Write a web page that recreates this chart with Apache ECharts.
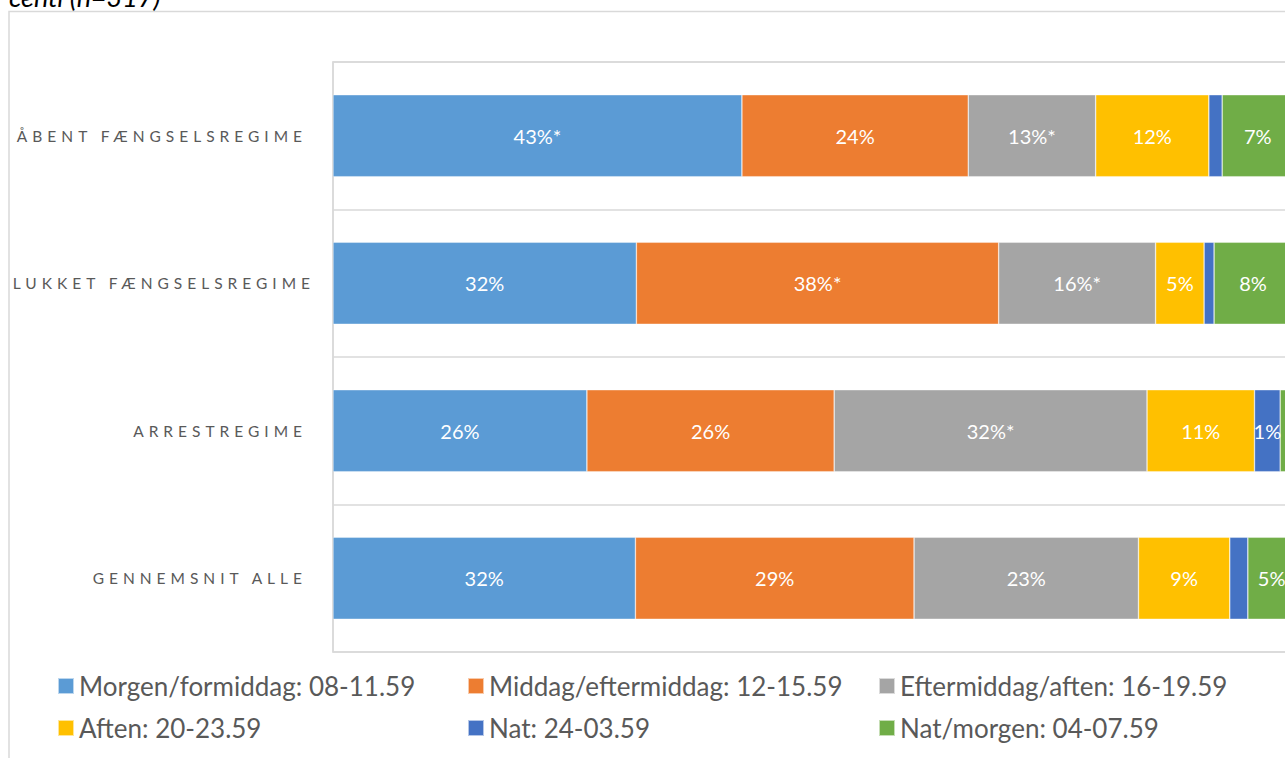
<!DOCTYPE html>
<html>
<head>
<meta charset="utf-8">
<script src="https://cdn.jsdelivr.net/npm/echarts@6/dist/echarts.min.js"></script>
<style>
html,body{margin:0;padding:0;background:#fff;}
#main{width:1285px;height:758px;}
</style>
</head>
<body>
<div id="main"></div>
<script>
// ---- data ----
var categories = ['ÅBENT FÆNGSELSREGIME', 'LUKKET FÆNGSELSREGIME', 'ARRESTREGIME', 'GENNEMSNIT ALLE'];
var seriesNames = ['Morgen/formiddag: 08-11.59', 'Middag/eftermiddag: 12-15.59', 'Eftermiddag/aften: 16-19.59',
                   'Aften: 20-23.59', 'Nat: 24-03.59', 'Nat/morgen: 04-07.59'];
var morgen      = [43.0, 31.9, 26.7, 31.8];
var middag      = [23.8, 38.1, 26.0, 29.3];
var eftermiddag = [13.4, 16.5, 32.9, 23.6];
var aften       = [11.9, 5.1, 11.3, 9.6];
var nat         = [1.4, 1.05, 2.7, 1.9];
var natMorgen   = [7.5, 8.2, 1.0, 5.0];
var morgenLabels      = ['43%*', '32%', '26%', '32%'];
var middagLabels      = ['24%', '38%*', '26%', '29%'];
var eftermiddagLabels = ['13%*', '16%*', '32%*', '23%'];
var aftenLabels       = ['12%', '5%', '11%', '9%'];
var natLabels         = ['', '', '1%', ''];
var natMorgenLabels   = ['7%', '8%', '', '5%'];
var titleText = 'centi (n=317)';

var colors = ['#5B9BD5', '#ED7D31', '#A5A5A5', '#FFC000', '#4472C4', '#70AD47'];
var FONT = 'Lato';
var allValues = [morgen, middag, eftermiddag, aften, nat, natMorgen];
var allLabels = [morgenLabels, middagLabels, eftermiddagLabels, aftenLabels, natLabels, natMorgenLabels];

var series = seriesNames.map(function (name, i) {
  return {
    name: name,
    type: 'bar',
    stack: 'total',
    barWidth: 82,
    itemStyle: { color: colors[i], borderColor: 'rgba(255,255,255,0.6)', borderWidth: 0.6 },
    label: {
      show: true,
      position: 'inside',
      color: '#ffffff',
      fontFamily: FONT,
      fontSize: 20,
      formatter: function (p) { return allLabels[i][p.dataIndex]; }
    },
    emphasis: { disabled: true },
    data: allValues[i]
  };
});

function legendCol(left, names) {
  return {
    orient: 'vertical',
    left: left,
    top: 668,
    itemWidth: 16,
    itemHeight: 16,
    itemGap: 16,
    icon: 'rect',
    selectedMode: false,
    textStyle: { color: '#595959', fontFamily: FONT, fontSize: 26, lineHeight: 26 },
    data: names
  };
}

var chart = echarts.init(document.getElementById('main'), null, { renderer: 'svg' });
chart.setOption({
  animation: false,
  color: colors,
  graphic: [
    { type: 'rect', shape: { x: 9, y: 11.5, width: 1400, height: 900 },
      style: { fill: 'none', stroke: '#D9D9D9', lineWidth: 1.5 }, silent: true },
    { type: 'text', x: 9, y: -4,
      style: { text: titleText, fill: '#000', font: 'italic 27px ' + FONT, verticalAlign: 'middle' }, silent: true }
  ],
  grid: { left: 333, top: 62, height: 590, width: 970, outerBoundsMode: 'none', containLabel: false,
          show: true, borderColor: '#D9D9D9', borderWidth: 1.5 },
  xAxis: { type: 'value', min: 0, max: 102, show: false },
  yAxis: {
    type: 'category',
    inverse: true,
    data: categories,
    axisLine: { show: true, lineStyle: { color: '#D9D9D9', width: 1.5 } },
    axisTick: { show: false },
    splitLine: { show: true, lineStyle: { color: '#D9D9D9', width: 1.5 } },
    axisLabel: { color: '#595959', fontFamily: FONT, fontSize: 15.5, margin: 26 }
  },
  legend: [
    legendCol(52, [seriesNames[0], seriesNames[3]]),
    legendCol(462, [seriesNames[1], seriesNames[4]]),
    legendCol(873, [seriesNames[2], seriesNames[5]])
  ],
  series: series
});

function spaceLabels() {
  var texts = document.querySelectorAll('#main text');
  texts.forEach(function (t) {
    var s = t.textContent.trim();
    if (categories.indexOf(s) >= 0) {
      t.setAttribute('letter-spacing', '5px');
      t.style.letterSpacing = '5px';
      if (s === categories[1]) { t.setAttribute('dx', '8'); }
    }
  });
}
chart.on('finished', spaceLabels);
spaceLabels();
</script>
</body>
</html>
